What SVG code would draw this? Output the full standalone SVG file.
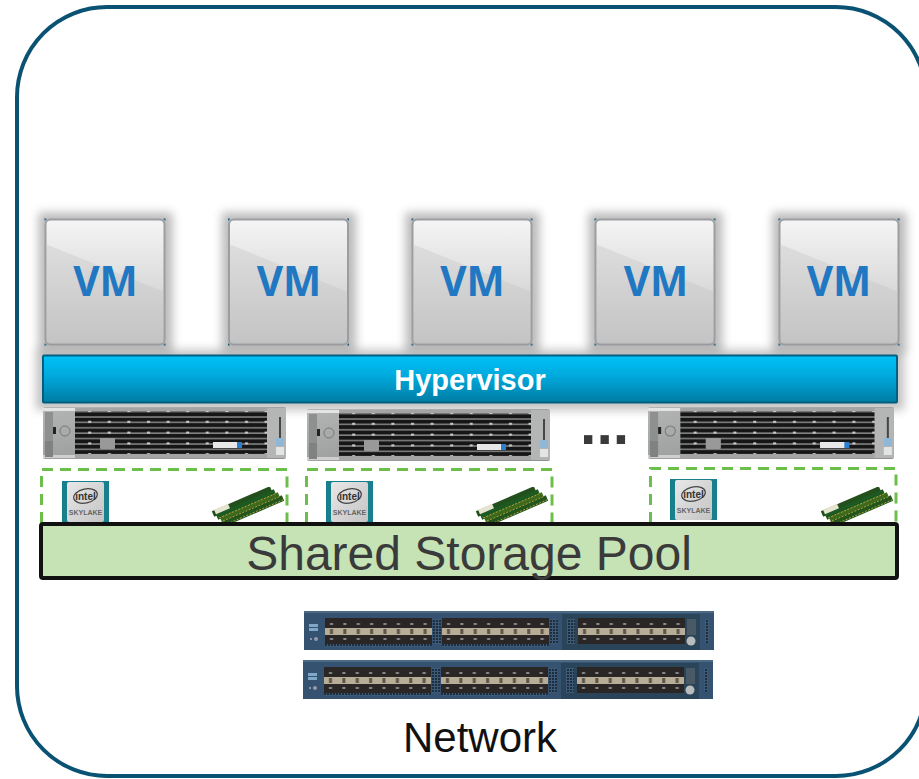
<svg xmlns="http://www.w3.org/2000/svg" width="919" height="779" viewBox="0 0 919 779">
<style>
.sans{font-family:"Liberation Sans",Arial,sans-serif}
.vmt{font-family:"Open Sans","Noto Sans",sans-serif;font-weight:700;font-size:40.500px;fill:#1f78c1;text-anchor:middle}
.dash{fill:none;stroke:#6cc04a;stroke-width:3;stroke-dasharray:11 7}
.mark{fill:#0a5a7d}
</style>
<defs>
<linearGradient id="vmg" x1="0" y1="0" x2="0" y2="1"><stop offset="0" stop-color="#f5f5f5"/><stop offset="1" stop-color="#c4c4c4"/></linearGradient>
<linearGradient id="hyg" x1="0" y1="0" x2="0" y2="1"><stop offset="0" stop-color="#00c2f7"/><stop offset=".45" stop-color="#00a8dc"/><stop offset="1" stop-color="#007ca3"/></linearGradient>
<linearGradient id="silver" x1="0" y1="0" x2="1" y2="1"><stop offset="0" stop-color="#b4b6b6"/><stop offset=".5" stop-color="#a0a2a2"/><stop offset="1" stop-color="#8e9090"/></linearGradient>
<linearGradient id="cpug" x1="0" y1="0" x2="1" y2="1"><stop offset="0" stop-color="#e8e8e8"/><stop offset="1" stop-color="#c4c4c4"/></linearGradient>
<filter id="blur" x="-30%" y="-30%" width="160%" height="160%"><feGaussianBlur stdDeviation="5"/></filter>
<filter id="soft" x="-5%" y="-5%" width="110%" height="110%"><feGaussianBlur stdDeviation="0.55"/></filter>
<pattern id="dots" width="19.600" height="10.800" patternUnits="userSpaceOnUse"><rect x="6" y="3" width="3" height="2" fill="#d0d0d0"/></pattern>
<pattern id="stripes" width="10" height="5.400" patternUnits="userSpaceOnUse"><rect width="10" height="5.400" fill="#141414"/><rect y="3.800" width="10" height="1.600" fill="#808080"/></pattern>
<pattern id="sfp" width="13.375" height="26" patternUnits="userSpaceOnUse"><rect width="13.375" height="26" fill="#2b2828"/><rect y="10" width="13.375" height="7" fill="#b8ae98"/><rect x="5" y="11" width="3" height="5" fill="#5b5448"/><rect x="5" y="5" width="3" height="2" fill="#8a8a8a"/><rect x="5" y="20" width="3" height="2" fill="#8a8a8a"/></pattern>
<pattern id="vent" width="3" height="3" patternUnits="userSpaceOnUse"><rect width="3" height="3" fill="#3c5a76"/><rect width="2" height="2" fill="#1e2f40"/></pattern>

<g id="server" filter="url(#soft)">
<rect x="0" y="0" width="243" height="52" rx="2" fill="url(#silver)"/>
<rect x="0" y="1" width="32" height="3" fill="#e4e4e4"/><rect x="0" y="48" width="32" height="3" fill="#cfcfcf"/>
<rect x="32" y="1" width="193" height="50" fill="#a4a4a4"/>
<rect x="32" y="4" width="192" height="43" fill="url(#stripes)"/>
<rect x="32" y="4" width="192" height="43" fill="url(#dots)"/>
<rect x="224" y="1" width="19" height="50" fill="#b4b6b6"/>
<rect x="236" y="10" width="2" height="22" fill="#444"/>
<rect x="233" y="31" width="8" height="8" fill="#8fb8d8"/><rect x="233" y="40" width="8" height="8" fill="#e4e4e4"/>
<rect x="2" y="5" width="8" height="30" fill="#8e9090"/><rect x="10" y="20" width="3" height="7" fill="#222"/>
<circle cx="22" cy="24" r="5" fill="none" stroke="#777" stroke-width="1"/>
<rect x="2" y="34" width="8" height="16" fill="#808282"/>
<rect x="57" y="31" width="15" height="11" rx="1" fill="#999"/>
<rect x="170" y="35" width="26" height="6" fill="#e8e8e8"/><rect x="194" y="35" width="5" height="6" fill="#2a7fd0"/>
</g>

<g id="cpu">
<rect x="0" y="0" width="47" height="41" fill="#17808c"/>
<rect x="5" y="1" width="37" height="40" rx="2" fill="url(#cpug)"/>
<ellipse cx="23.500" cy="15" rx="12" ry="7" fill="none" stroke="#444" stroke-width="1.200" transform="rotate(-12 23.500 15)"/>
<text class="sans" x="23.500" y="18.500" font-size="10" font-weight="700" fill="#333" text-anchor="middle">intel</text>
<text class="sans" x="23.500" y="34" font-size="7" font-weight="700" fill="#666" text-anchor="middle">SKYLAKE</text>
</g>

<g id="ram" filter="url(#soft)">
<path d="M0 26L58 1" stroke="#244f1c" stroke-width="6"/>
<path d="M4 29L62 4" stroke="#1c5a22" stroke-width="6"/>
<path d="M8 32L66 7" stroke="#3d6b1c" stroke-width="6"/>
<path d="M12 35L70 10" stroke="#20561f" stroke-width="6"/>
<path d="M6 30L64 5M10 33L68 8M14 36L72 11" stroke="#b8a040" stroke-width="1" stroke-dasharray="2 1.500"/>
<path d="M2 24L16 18" stroke="#e4e4d0" stroke-width="5"/>
</g>

<g id="switch" filter="url(#soft)">
<rect x="0" y="0" width="410" height="39" fill="#365370"/>
<rect x="0" y="0" width="410" height="2" fill="#4e6b85"/>
<rect x="258" y="3" width="138" height="36" fill="#2b445a"/>
<g transform="translate(21 7)"><rect width="107" height="26" fill="url(#sfp)"/></g>
<g transform="translate(138 7)"><rect width="107" height="26" fill="url(#sfp)"/></g>
<g transform="translate(274 7)"><rect width="107" height="26" fill="url(#sfp)"/></g>
<rect x="21" y="33" width="107" height="3" fill="url(#vent)"/><rect x="138" y="33" width="107" height="3" fill="url(#vent)"/>
<rect x="5" y="13" width="9" height="3" fill="#7fa8c8"/><rect x="5" y="17" width="9" height="3" fill="#7fa8c8"/>
<circle cx="7" cy="28" r="1" fill="#aab"/><circle cx="12" cy="28" r="2" fill="#99a"/>
<rect x="129" y="8" width="8" height="25" fill="url(#vent)"/><rect x="246" y="8" width="8" height="25" fill="url(#vent)"/><rect x="263" y="8" width="8" height="25" fill="url(#vent)"/>
<circle cx="387" cy="30" r="4.500" fill="#b8bcbc"/>
<rect x="383" y="8" width="9" height="16" fill="#4a5a66"/>
<rect x="401" y="8" width="4" height="24" fill="url(#vent)"/>
</g>

<g id="vmbox">
<rect x="-7" y="-7" width="134" height="140" fill="#777" opacity=".5" filter="url(#blur)"/>
<rect x="0" y="0" width="119" height="125" rx="5" fill="url(#vmg)" stroke="#9b9da1" stroke-width="2"/>
<path d="M1 25L118 72V124H1Z" fill="#c4c4c4" opacity=".35"/>
<path class="mark" d="M-1 -1h2v1h-1v1h-1zM120 -1h-2v1h1v1h1zM-1 126h2v-1h-1v-1h-1zM120 126h-2v-1h1v-1h1z"/>
</g>
</defs>

<rect id="frame" x="17" y="7" width="909" height="769" rx="90" ry="90" fill="#fff" stroke="#0a5273" stroke-width="4"/>

<g id="vm1"><use href="#vmbox" x="45.500" y="219.500"/><text class="vmt" x="105.500" y="296">VM</text></g>
<g id="vm2"><use href="#vmbox" x="229" y="219.500"/><text class="vmt" x="289" y="296">VM</text></g>
<g id="vm3"><use href="#vmbox" x="412.500" y="219.500"/><text class="vmt" x="472.500" y="296">VM</text></g>
<g id="vm4"><use href="#vmbox" x="595.500" y="219.500"/><text class="vmt" x="656" y="296">VM</text></g>
<g id="vm5"><use href="#vmbox" x="779.500" y="219.500"/><text class="vmt" x="839" y="296">VM</text></g>

<g id="hypervisor">
<rect x="36" y="350" width="868" height="60" fill="#777" opacity=".45" filter="url(#blur)"/>
<rect x="43" y="355.500" width="854" height="47" rx="1" fill="url(#hyg)" stroke="#005f80" stroke-width="2"/>
<text class="sans" x="470" y="390" font-size="29" font-weight="700" fill="#fff" text-anchor="middle">Hypervisor</text>
</g>

<g id="server1"><use href="#server" x="43" y="407"/></g>
<g id="server2"><use href="#server" x="307" y="409"/></g>
<g id="ellipsis"><text class="sans" x="580" y="444" font-size="59" font-weight="700" fill="#3a3a3a">...</text></g>
<g id="server3"><use href="#server" transform="translate(648 407) scale(1.012 1)"/></g>

<g id="node1">
<path class="dash" d="M41.500 523V469.500H287V523"/>
<use href="#cpu" x="62" y="481"/><use href="#ram" x="213" y="488"/>
</g>
<g id="node2">
<path class="dash" d="M306.500 523V469.500H552V523"/>
<use href="#cpu" x="326" y="481"/><use href="#ram" x="477" y="488"/>
</g>
<g id="node3">
<path class="dash" d="M650.500 523V468.500H896V523"/>
<use href="#cpu" x="670" y="479"/><use href="#ram" x="822" y="488"/>
</g>

<g id="storage">
<rect x="41" y="524" width="856" height="54" rx="2" fill="#c5e3b5" stroke="#111" stroke-width="4"/>
<text class="sans" x="469" y="570" font-size="48" fill="#3a3a3a" text-anchor="middle">Shared Storage Pool</text>
</g>

<g id="network">
<use href="#switch" x="304" y="611"/>
<use href="#switch" x="303" y="660"/>
<text class="sans" x="480" y="752" font-size="42" fill="#111" text-anchor="middle">Network</text>
</g>
</svg>
